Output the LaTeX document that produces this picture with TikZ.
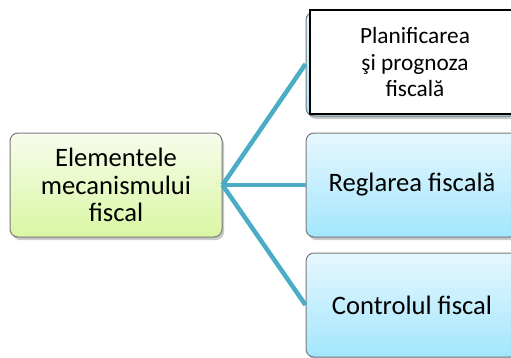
\documentclass[tikz,border=0pt]{standalone}
\usepackage{fontspec}
\setmainfont{Carlito}
\usetikzlibrary{shadows}
\definecolor{linkc}{HTML}{4BACC6}
\definecolor{greentop}{HTML}{F7FCEC}
\definecolor{greenbot}{HTML}{D9F7A2}
\definecolor{bluetop}{HTML}{E6F7FE}
\definecolor{bluebot}{HTML}{A3E6FC}
\definecolor{edgec}{HTML}{7A7A7A}
\tikzset{
  rootbox/.style={draw=edgec, line width=1pt, rounded corners=8pt, top color=greentop, bottom color=greenbot,
    minimum width=212pt, minimum height=104pt, align=center, inner sep=0pt,
    drop shadow={shadow xshift=2pt, shadow yshift=-3pt, opacity=0.35, fill=black!60},
    font=\fontsize{26.6}{27.5}\selectfont},
  leafbox/.style={draw=edgec, line width=1pt, rounded corners=8pt, top color=bluetop, bottom color=bluebot,
    minimum width=212pt, minimum height=104pt, align=center, inner sep=0pt,
    drop shadow={shadow xshift=2pt, shadow yshift=-3pt, opacity=0.35, fill=black!60},
    font=\fontsize{26.6}{27.5}\selectfont},
  overbox/.style={draw=black, line width=1.6pt, fill=white, minimum width=210pt, minimum height=104pt,
    align=center, inner sep=0pt, font=\fontsize{23.3}{26.5}\selectfont},
  link/.style={draw=linkc, line width=4.5pt}
}
\begin{document}
\begin{tikzpicture}[x=1pt,y=1pt]
\useasboundingbox (0,0) rectangle (511,-357);
\clip (0,0) rectangle (511,-357);
\fill[white] (0,0) rectangle (511,-357);
% nodes
\node[rootbox] (root) at (116,-185) {Elementele\\mecanismului\\fiscal};
\node[leafbox] (a) at (412,-64) {};
\node[leafbox] (b) at (412,-185) {Reglarea fiscală};
\node[leafbox] (c) at (412,-305) {Controlul fiscal};
% connectors
\coordinate (hub) at (root.east);
\draw[link] (hub) -- (a.west);
\draw[link] (hub) -- (b.west);
\draw[link] (hub) -- (c.west);
\node[overbox] (a2) at (415,-62) {Planificarea\\şi prognoza\\fiscală};
\end{tikzpicture}
\end{document}
